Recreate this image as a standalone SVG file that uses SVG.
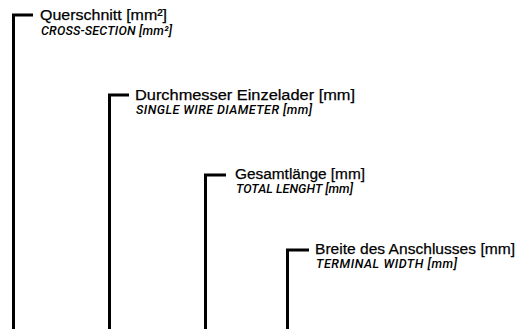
<svg xmlns="http://www.w3.org/2000/svg" width="517" height="329" viewBox="0 0 517 329">
<style>
.ln{fill:none;stroke:#000;stroke-width:3;stroke-linejoin:miter}
.t1{font-family:"Liberation Sans",Arial,sans-serif;font-size:15.5px;fill:#000;stroke:#000;stroke-width:0.25}
.t2{font-family:Roboto,"Liberation Sans",Arial,sans-serif;font-size:12.5px;font-style:italic;font-weight:500;fill:#000}
</style>
<rect width="517" height="329" fill="#fff"/>
<g id="connectors">
<path class="ln" d="M13.5,329 V15 H33"/>
<path class="ln" d="M109.5,329 V95 H129"/>
<path class="ln" d="M205.5,329 V175 H226"/>
<path class="ln" d="M287.5,329 V250 H309"/>
</g>
<g id="n1"><text class="t1" x="40" y="20" textLength="127" lengthAdjust="spacingAndGlyphs">Querschnitt [mm²]</text><text class="t2" x="41" y="35" textLength="131" lengthAdjust="spacing">CROSS-SECTION [mm²]</text></g>
<g id="n2"><text class="t1" x="135" y="100" textLength="220" lengthAdjust="spacingAndGlyphs">Durchmesser Einzelader [mm]</text><text class="t2" x="136" y="114" textLength="176" lengthAdjust="spacing">SINGLE WIRE DIAMETER [mm]</text></g>
<g id="n3"><text class="t1" x="235" y="179" textLength="130" lengthAdjust="spacingAndGlyphs">Gesamtlänge [mm]</text><text class="t2" x="236" y="193" textLength="117" lengthAdjust="spacing">TOTAL LENGHT [mm]</text></g>
<g id="n4"><text class="t1" x="315" y="254" textLength="200" lengthAdjust="spacingAndGlyphs">Breite des Anschlusses [mm]</text><text class="t2" x="316" y="268" textLength="141" lengthAdjust="spacing">TERMINAL WIDTH [mm]</text></g>
</svg>
